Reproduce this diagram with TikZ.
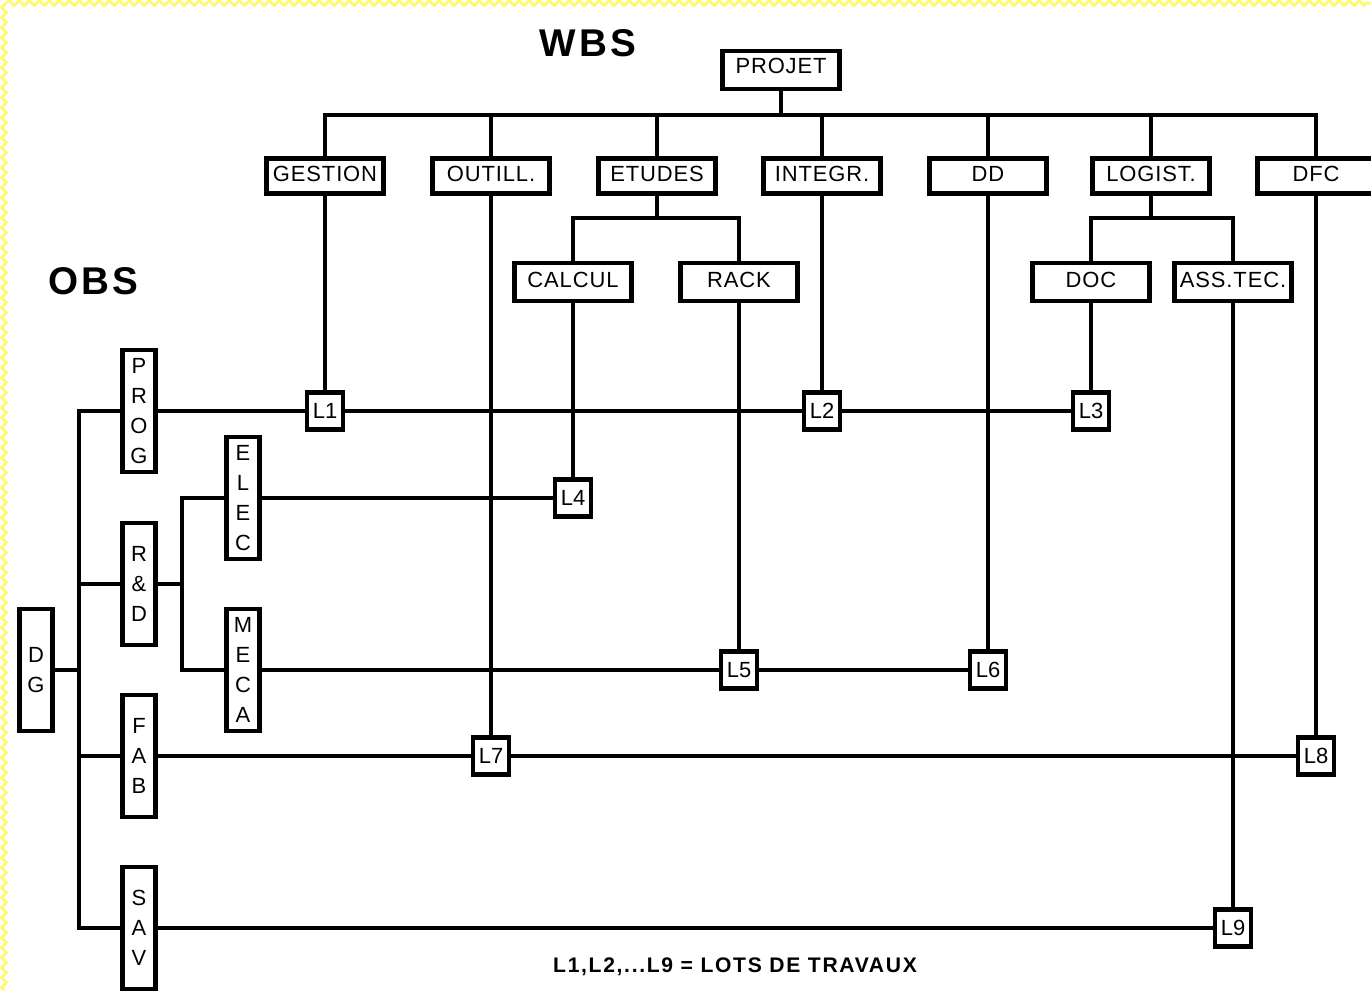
\documentclass[tikz,border=0pt]{standalone}
\usepackage{fontspec}
\setmainfont{Liberation Sans}
\usetikzlibrary{calc,decorations.pathmorphing}
\tikzset{
  tree/.style={line width=2.3pt},
  wbox/.style={draw, line width=2.8pt, inner sep=0pt, minimum width=2.34cm, minimum height=0.70cm, text depth=0.1cm, font=\fontsize{12.5}{14}\selectfont\addfontfeatures{LetterSpace=4}},
  lot/.style={draw, line width=2.8pt, inner sep=0pt, minimum width=0.72cm, minimum height=0.74cm, fill=white, font=\fontsize{12.5}{14}\selectfont},
  obox/.style={draw, line width=2.8pt, inner sep=0pt, minimum width=0.66cm, minimum height=2.44cm, align=center, font=\fontsize{12.5}{17}\selectfont},
  titre/.style={font=\fontsize{22}{24}\selectfont\bfseries\addfontfeatures{LetterSpace=8}},
}
\begin{document}
\begin{tikzpicture}[x=0.02cm, y=-0.02cm]
			%%%%% START %%%%%
			
			\useasboundingbox (0, 0) rectangle (1371, 990);
			\draw[yellow!55, line width=1.6pt, decorate, decoration={zigzag, segment length=0.2cm, amplitude=0.05cm}] (4, 990) -- (4, 3) -- (1371, 3);
			
			\node[titre] (wbs) at (588, 43) {WBS};
			\node[titre] (obs) at (93, 281) {OBS};
			
			% WBS
			\node[wbox, minimum height=0.76cm, text depth=0.18cm] (projet) at (781, 70) {PROJET};
			\node[wbox] (gestion) at (325, 176) {GESTION};
			\node[wbox] (outill) at (491, 176) {OUTILL.};
			\node[wbox] (etudes) at (657, 176) {ETUDES};
			\node[wbox] (integr) at (822, 176) {INTEGR.};
			\node[wbox] (dd) at (988, 176) {DD};
			\node[wbox] (logist) at (1151, 176) {LOGIST.};
			\node[wbox] (dfc) at (1316, 176) {DFC};
			\node[wbox, minimum height=0.76cm] (calcul) at (573, 282) {CALCUL};
			\node[wbox, minimum height=0.76cm] (rack) at (739, 282) {RACK};
			\node[wbox, minimum height=0.76cm] (doc) at (1091, 282) {DOC};
			\node[wbox, minimum height=0.76cm] (asstec) at (1233, 282) {ASS.TEC.};
			
			\coordinate (bar) at (781, 115);
			\coordinate (etbar) at (657, 218);
			\coordinate (lgbar) at (1151, 218);
			\draw[tree] (projet) -- (bar);
			\draw[tree] (gestion.north) |- (bar) -| (dfc.north);
			\draw[tree] (bar -| outill.north) -- (outill.north);
			\draw[tree] (bar -| etudes.north) -- (etudes.north);
			\draw[tree] (bar -| integr.north) -- (integr.north);
			\draw[tree] (bar -| dd.north) -- (dd.north);
			\draw[tree] (bar -| logist.north) -- (logist.north);
			\draw[tree] (etudes) -- (etbar);
			\draw[tree] (calcul.north) |- (etbar) -| (rack.north);
			\draw[tree] (logist) -- (lgbar);
			\draw[tree] (doc.north) |- (lgbar) -| (asstec.north);
			
			% OBS
			\node[obox] (dg) at (36, 670) {D\\G};
			\node[obox] (prog) at (139, 411) {P\\R\\O\\G};
			\node[obox] (rd) at (139, 584) {R\\\&\\D};
			\node[obox] (fab) at (139, 756) {F\\A\\B};
			\node[obox] (sav) at (139, 928) {S\\A\\V};
			\node[obox] (elec) at (243, 498) {E\\L\\E\\C};
			\node[obox] (meca) at (243, 670) {M\\E\\C\\A};
			
			\coordinate (obsbar) at (79, 670);
			\coordinate (rdbar) at (182, 584);
			\draw[tree] (dg) -- (obsbar);
			\draw[tree] (prog.west) -| (obsbar) |- (sav.west);
			\draw[tree] (obsbar |- rd) -- (rd.west);
			\draw[tree] (obsbar |- fab) -- (fab.west);
			\draw[tree] (rd) -- (rdbar);
			\draw[tree] (elec.west) -| (rdbar) |- (meca.west);
			
			% lots
			\node[lot] (L1) at (gestion |- prog) {L1};
			\node[lot] (L2) at (integr |- prog) {L2};
			\node[lot] (L3) at (doc |- prog) {L3};
			\node[lot] (L4) at (calcul |- elec) {L4};
			\node[lot] (L5) at (rack |- meca) {L5};
			\node[lot] (L6) at (dd |- meca) {L6};
			\node[lot] (L7) at (outill |- fab) {L7};
			\node[lot] (L8) at (dfc |- fab) {L8};
			\node[lot] (L9) at (asstec |- sav) {L9};
			
			\draw[tree] (gestion) -- (L1);
			\draw[tree] (integr) -- (L2);
			\draw[tree] (doc) -- (L3);
			\draw[tree] (calcul) -- (L4);
			\draw[tree] (rack) -- (L5);
			\draw[tree] (dd) -- (L6);
			\draw[tree] (outill) -- (L7);
			\draw[tree] (dfc) -- (L8);
			\draw[tree] (asstec) -- (L9);
			
			\draw[tree] (prog) -- (L1) -- (L2) -- (L3);
			\draw[tree] (elec) -- (L4);
			\draw[tree] (meca) -- (L5) -- (L6);
			\draw[tree] (fab) -- (L7) -- (L8);
			\draw[tree] (sav) -- (L9);
			
			\node[font=\fontsize{12}{13}\selectfont\bfseries\addfontfeatures{LetterSpace=8}] (legende) at (735, 967) {L1,L2,...L9 = LOTS DE TRAVAUX};
			
			%%%%% END %%%%%
\end{tikzpicture}
\end{document}
